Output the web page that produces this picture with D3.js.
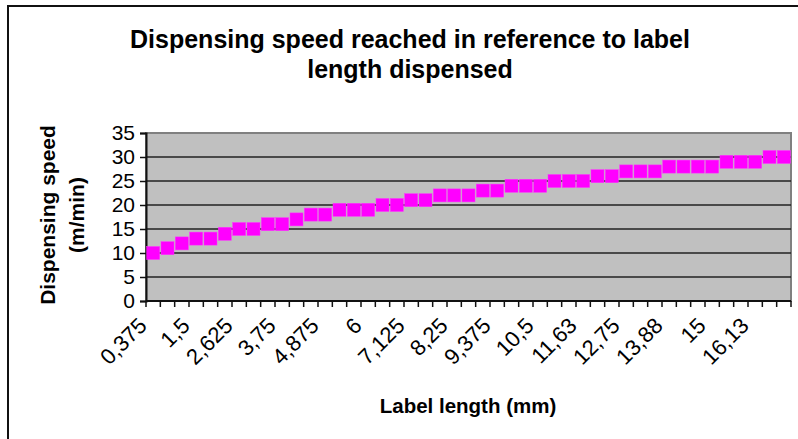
<!DOCTYPE html>
<html>
<head>
<meta charset="utf-8">
<script src="https://cdn.jsdelivr.net/npm/d3@7"></script>
<style>
  body { margin: 0; background: #fff; }
  svg { display: block; font-family: Arial, "Liberation Sans", sans-serif; }
</style>
</head>
<body>
<svg id="chart" width="798" height="439"></svg>
<script>
// label length steps (mm) and speed reached (m/min)
var lengths = [0.375, 0.75, 1.125, 1.5, 1.875, 2.25, 2.625, 3, 3.375, 3.75,
               4.125, 4.5, 4.875, 5.25, 5.625, 6, 6.375, 6.75, 7.125, 7.5,
               7.875, 8.25, 8.625, 9, 9.375, 9.75, 10.125, 10.5, 10.875, 11.25,
               11.625, 12, 12.375, 12.75, 13.125, 13.5, 13.875, 14.25, 14.625, 15,
               15.375, 15.75, 16.125, 16.5, 16.875];
var speeds = [10, 11, 12, 13, 13, 14, 15, 15, 16, 16,
              17, 18, 18, 19, 19, 19, 20, 20, 21, 21,
              22, 22, 22, 23, 23, 24, 24, 24, 25, 25,
              25, 26, 26, 27, 27, 27, 28, 28, 28, 28,
              29, 29, 29, 30, 30];
var yTicks = [0, 5, 10, 15, 20, 25, 30, 35];
var titleLines = ['Dispensing speed reached in reference to label', 'length dispensed'];
var yTitleLines = ['Dispensing speed', '(m/min)'];
var xTitle = 'Label length (mm)';

function fmt(v) {
    // excel style: 2 decimals max above 10, comma separator
    var s = String(v);
    if (s.split('.')[1] && s.split('.')[1].length > 2 && v > 10) s = v.toFixed(2);
    return s.replace('.', ',');
}

var svg = d3.select('#chart');
var plot = { left: 146, right: 791, top: 133, bottom: 301 };

// outer chart border
svg.append('rect')
    .attr('x', 8).attr('y', 6)
    .attr('width', 810).attr('height', 460)
    .attr('fill', 'none')
    .attr('stroke', '#111')
    .attr('stroke-width', 2);

var x = d3.scaleBand()
    .domain(d3.range(lengths.length))
    .range([plot.left, plot.right]);
var y = d3.scaleLinear()
    .domain([0, 35])
    .range([plot.bottom, plot.top]);

// plot area
svg.append('rect')
    .attr('x', plot.left).attr('y', plot.top)
    .attr('width', plot.right - plot.left).attr('height', plot.bottom - plot.top)
    .attr('fill', '#c0c0c0')
    .attr('stroke', '#808080')
    .attr('stroke-width', 2);

// gridlines
svg.append('g')
    .selectAll('line')
    .data(yTicks.filter(function (d) { return d > 0 && d < 35; }))
    .enter()
    .append('line')
    .attr('x1', plot.left).attr('x2', plot.right)
    .attr('y1', function (d) { return y(d); })
    .attr('y2', function (d) { return y(d); })
    .attr('stroke', '#222')
    .attr('stroke-width', 1.5);

// y axis
var yAxis = svg.append('g')
    .attr('transform', 'translate(' + plot.left + ',0)')
    .call(d3.axisLeft(y).tickValues(yTicks).tickSize(6).tickPadding(5));
yAxis.select('.domain').attr('stroke', '#111').attr('stroke-width', 2);
yAxis.selectAll('.tick line').attr('stroke', '#111').attr('stroke-width', 1.5);
yAxis.selectAll('.tick text')
    .attr('font-size', 21)
    .attr('font-family', 'Arial, "Liberation Sans", sans-serif')
    .attr('fill', '#000');

// x axis: a tick at every category boundary
var xAxis = svg.append('g')
    .attr('transform', 'translate(0,' + plot.bottom + ')');
var edges = d3.range(lengths.length + 1).map(function (i) { return plot.left + i * x.step(); });
xAxis.append('line')
    .attr('x1', plot.left).attr('x2', plot.right)
    .attr('stroke', '#111').attr('stroke-width', 2);
xAxis.selectAll('line.tk')
    .data(edges)
    .enter()
    .append('line')
    .attr('class', 'tk')
    .attr('x1', function (d) { return d; }).attr('x2', function (d) { return d; })
    .attr('y1', 0).attr('y2', 6)
    .attr('stroke', '#111').attr('stroke-width', 1.5);

// rotated category labels, every third one
xAxis.selectAll('text')
    .data(lengths.filter(function (d, i) { return i % 3 === 0; }))
    .enter()
    .append('text')
    .attr('text-anchor', 'end')
    .attr('font-size', 22)
    .attr('transform', function (d) {
        var i = lengths.indexOf(d);
        var cx = x(i) + x.bandwidth() / 2 - 5;
        return 'translate(' + cx + ',26) rotate(-45)';
    })
    .text(function (d) { return fmt(d); });

// markers
var ms = 13;
svg.append('g')
    .selectAll('rect')
    .data(speeds)
    .enter()
    .append('rect')
    .attr('x', function (d, i) { return x(i) + x.bandwidth() / 2 - ms / 2; })
    .attr('y', function (d) { return y(d) - ms / 2; })
    .attr('width', ms).attr('height', ms)
    .attr('fill', '#ff00ff')
    .attr('stroke', '#ff33ff')
    .attr('stroke-width', 0.5);

// titles
svg.append('text')
    .attr('x', 410).attr('y', 48)
    .attr('text-anchor', 'middle')
    .attr('font-size', 25).attr('font-weight', 'bold')
    .selectAll('tspan')
    .data(titleLines)
    .enter()
    .append('tspan')
    .attr('x', 410)
    .attr('dy', function (d, i) { return i === 0 ? 0 : 30; })
    .text(function (d) { return d; });

svg.append('text')
    .attr('transform', 'translate(55,215) rotate(-90)')
    .attr('text-anchor', 'middle')
    .attr('font-size', 21).attr('font-weight', 'bold')
    .selectAll('tspan')
    .data(yTitleLines)
    .enter()
    .append('tspan')
    .attr('x', 0)
    .attr('dy', function (d, i) { return i === 0 ? 0 : 29; })
    .text(function (d) { return d; });

svg.append('text')
    .attr('x', 468).attr('y', 413)
    .attr('text-anchor', 'middle')
    .attr('font-size', 20.5).attr('font-weight', 'bold')
    .text(xTitle);
</script>
</body>
</html>
